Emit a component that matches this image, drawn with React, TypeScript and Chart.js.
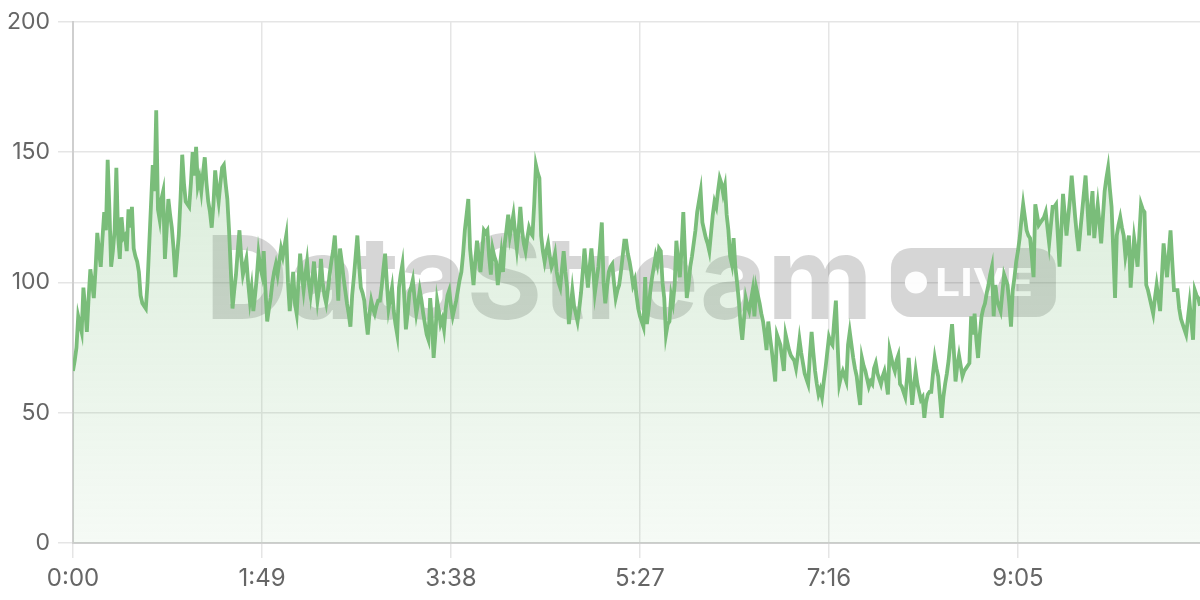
import React, { useEffect, useRef } from 'react';
import { Chart, registerables } from 'chart.js';

Chart.register(...registerables);

// one sample per second, 0:00 .. 10:50
const VALUES: number[] = [
  66, 70, 75, 87, 84, 81, 98, 90, 81, 94,
  105, 100, 94, 105, 119, 112, 106, 117, 127, 120,
  147, 128, 106, 112, 120, 144, 118, 109, 125, 117,
  118, 112, 128, 121, 129, 113, 110, 108, 104, 95,
  92, 91, 90, 100, 115, 130, 145, 135, 166, 128,
  124, 132, 135, 109, 120, 132, 126, 121, 113, 102,
  110, 118, 132, 149, 138, 131, 130, 129, 138, 150,
  141, 152, 137, 140, 135, 142, 148, 138, 131, 127,
  121, 130, 143, 136, 131, 138, 144, 145, 138, 132,
  120, 105, 90, 97, 103, 112, 120, 110, 103, 106,
  109, 100, 93, 98, 89, 95, 102, 111, 106, 103,
  112, 97, 85, 90, 94, 100, 104, 107, 103, 108,
  113, 110, 114, 118, 100, 89, 97, 104, 92, 88,
  100, 111, 103, 97, 103, 108, 100, 95, 101, 108,
  100, 93, 98, 109, 100, 95, 92, 97, 103, 108,
  112, 118, 106, 93, 113, 108, 102, 97, 92, 88,
  83, 95, 102, 110, 118, 107, 98, 96, 93, 86,
  80, 88, 93, 90, 88, 91, 93, 93, 98, 105,
  111, 100, 90, 94, 98, 89, 84, 80, 98, 103,
  107, 95, 82, 88, 96, 98, 101, 94, 88, 92,
  97, 93, 88, 84, 80, 78, 94, 85, 71, 80,
  93, 89, 84, 86, 82, 90, 95, 97, 91, 87,
  90, 93, 97, 101, 104, 111, 120, 126, 132, 113,
  106, 99, 108, 116, 110, 104, 112, 120, 119, 120,
  110, 103, 113, 110, 108, 99, 105, 111, 104, 115,
  120, 126, 118, 122, 126, 119, 113, 120, 129, 120,
  115, 112, 117, 121, 119, 118, 130, 145, 142, 140,
  118, 112, 108, 112, 115, 110, 106, 108, 111, 104,
  100, 98, 105, 112, 104, 98, 84, 90, 97, 91,
  88, 85, 90, 96, 104, 113, 105, 98, 106, 113,
  105, 96, 101, 106, 114, 123, 100, 92, 98, 104,
  106, 107, 100, 94, 97, 99, 104, 110, 116, 116,
  111, 108, 104, 99, 101, 95, 90, 87, 85, 83,
  102, 84, 90, 97, 102, 106, 110, 107, 113, 112,
  100, 94, 80, 84, 85, 95, 92, 99, 116, 108,
  102, 113, 127, 110, 94, 99, 106, 110, 115, 120,
  127, 131, 135, 123, 120, 117, 115, 112, 119, 126,
  131, 129, 135, 140, 138, 134, 137, 126, 120, 110,
  107, 117, 106, 100, 93, 84, 78, 86, 94, 91,
  89, 93, 97, 87, 98, 95, 92, 88, 85, 80,
  74, 85, 79, 74, 68, 62, 80, 78, 76, 71,
  66, 80, 77, 74, 72, 71, 70, 67, 72, 78,
  73, 69, 65, 63, 61, 72, 81, 73, 66, 61,
  57, 59, 56, 62, 67, 73, 79, 77, 76, 85,
  93, 76, 61, 64, 66, 64, 62, 76, 81, 76,
  71, 67, 64, 58, 53, 71, 68, 66, 63, 60,
  62, 61, 67, 69, 65, 63, 61, 64, 66, 62,
  57, 74, 71, 68, 66, 70, 72, 61, 60, 58,
  56, 63, 71, 62, 53, 60, 66, 61, 58, 55,
  56, 48, 54, 57, 58, 58, 65, 71, 67, 64,
  56, 48, 56, 61, 65, 70, 77, 84, 74, 62,
  68, 72, 68, 64, 66, 67, 68, 69, 87, 80,
  88, 78, 71, 80, 87, 90, 92, 96, 99, 103,
  106, 87, 99, 93, 91, 89, 96, 103, 101, 99,
  92, 83, 97, 102, 108, 112, 117, 124, 130, 125,
  120, 118, 117, 110, 102, 130, 126, 122, 123, 124,
  125, 127, 121, 115, 122, 129, 129, 130, 118, 106,
  120, 134, 126, 118, 125, 132, 141, 133, 125, 118,
  112, 120, 127, 134, 141, 130, 118, 128, 135, 117,
  124, 130, 123, 115, 125, 135, 140, 144, 136, 129,
  112, 94, 118, 122, 125, 121, 118, 110, 114, 118,
  98, 108, 117, 112, 106, 118, 130, 128, 127, 99,
  97, 94, 91, 88, 94, 99, 94, 89, 102, 115,
  108, 102, 111, 120, 108, 97, 97, 97, 90, 86,
  84, 82, 80, 86, 92, 85, 78, 97, 95, 94,
  91,
];

const X_TICK_STEP = 109;
const X_TICK_LABELS = ['0:00', '1:49', '3:38', '5:27', '7:16', '9:05'];
const Y_TICKS = [0, 50, 100, 150, 200];
const WATERMARK_TEXT = 'DataStream';
const BADGE_TEXT = 'LIVE';

const FONT = 'Inter, "Liberation Sans", Arial, sans-serif';
const LINE_COLOR = 'rgb(122,189,122)';

const watermarkPlugin = {
  id: 'watermark',
  beforeDatasetsDraw(chart: any) {
    const { ctx, chartArea } = chart;
    ctx.save();
    const targetW = 668;
    ctx.font = `bold 120px ${FONT}`;
    const w120 = ctx.measureText(WATERMARK_TEXT).width;
    const size = (120 * targetW) / w120;
    ctx.font = `bold ${size}px ${FONT}`;
    const tw = ctx.measureText(WATERMARK_TEXT).width;
    const badgeW = 165;
    const badgeH = 69;
    const gap = 18;
    const total = tw + gap + badgeW;
    const cx = (chartArea.left + chartArea.right) / 2 - 6;
    const cy = (chartArea.top + chartArea.bottom) / 2;
    const x0 = cx - total / 2;
    ctx.fillStyle = 'rgba(0,0,0,0.16)';
    ctx.textAlign = 'left';
    ctx.textBaseline = 'alphabetic';
    ctx.fillText(WATERMARK_TEXT, x0, cy + 37);
    const bx = x0 + tw + gap;
    const by = cy - badgeH / 2;
    const r = 20;
    ctx.beginPath();
    ctx.moveTo(bx + r, by);
    ctx.lineTo(bx + badgeW - r, by);
    ctx.arcTo(bx + badgeW, by, bx + badgeW, by + r, r);
    ctx.lineTo(bx + badgeW, by + badgeH - r);
    ctx.arcTo(bx + badgeW, by + badgeH, bx + badgeW - r, by + badgeH, r);
    ctx.lineTo(bx + r, by + badgeH);
    ctx.arcTo(bx, by + badgeH, bx, by + badgeH - r, r);
    ctx.lineTo(bx, by + r);
    ctx.arcTo(bx, by, bx + r, by, r);
    ctx.closePath();
    ctx.fill();
    ctx.fillStyle = 'rgba(255,255,255,0.95)';
    ctx.beginPath();
    ctx.arc(bx + 25, cy, 11, 0, Math.PI * 2);
    ctx.fill();
    ctx.font = `bold 38px ${FONT}`;
    ctx.textBaseline = 'middle';
    const lw = ctx.measureText(BADGE_TEXT).width;
    ctx.save();
    ctx.translate(bx + 44, cy + 2);
    ctx.scale(98 / lw, 1);
    ctx.fillText(BADGE_TEXT, 0, 0);
    ctx.restore();
    ctx.restore();
  },
};

export default function App() {
  const canvasRef = useRef<HTMLCanvasElement | null>(null);

  useEffect(() => {
    const canvas = canvasRef.current;
    if (!canvas) return;
    const data = VALUES.map((v, i) => ({ x: i, y: v }));
    const chart = new Chart(canvas, {
      type: 'line',
      data: {
        datasets: [
          {
            data,
            borderColor: LINE_COLOR,
            borderWidth: 3.8,
            pointRadius: 0,
            tension: 0,
            fill: 'origin',
            backgroundColor: (context: any) => {
              const { chart: c } = context;
              const area = c.chartArea;
              if (!area) return 'rgba(122,189,122,0.2)';
              const g = c.ctx.createLinearGradient(0, area.top, 0, area.bottom);
              g.addColorStop(0, 'rgba(122,189,122,0.34)');
              g.addColorStop(1, 'rgba(122,189,122,0.07)');
              return g;
            },
          },
        ],
      },
      options: {
        animation: false,
        responsive: true,
        maintainAspectRatio: false,
        layout: { padding: { top: 20, right: 0, left: 0, bottom: 0 } },
        plugins: {
          legend: { display: false },
          tooltip: { enabled: false },
        },
        scales: {
          x: {
            type: 'linear',
            min: 0,
            max: VALUES.length - 1,
            afterBuildTicks: (s: any) => {
              s.ticks = X_TICK_LABELS.map((_, i) => ({ value: i * X_TICK_STEP }));
            },
            afterFit: (s: any) => {
              s.height = 57;
            },
            ticks: {
              autoSkip: false,
              maxRotation: 0,
              minRotation: 0,
              padding: 6,
              color: '#666666',
              font: { family: FONT, size: 24 },
              callback: (v: any) => X_TICK_LABELS[Math.round(Number(v) / X_TICK_STEP)] ?? '',
            },
            grid: { color: '#e5e5e5', lineWidth: 1.5, tickLength: 15 },
            border: { color: '#cfcfcf', width: 2 },
          },
          y: {
            min: 0,
            max: 200,
            afterBuildTicks: (s: any) => {
              s.ticks = Y_TICKS.map((v) => ({ value: v }));
            },
            afterFit: (s: any) => {
              s.width = 73;
            },
            ticks: {
              padding: 8,
              color: '#666666',
              font: { family: FONT, size: 23 },
            },
            grid: { color: '#e5e5e5', lineWidth: 1.5, tickLength: 15 },
            border: { color: '#cfcfcf', width: 2 },
          },
        },
      },
      plugins: [watermarkPlugin],
    });
    return () => chart.destroy();
  }, []);

  return (
    <div style={{ position: 'fixed', left: 0, top: 0, width: 1200, height: 600, background: '#ffffff' }}>
      <canvas ref={canvasRef} />
    </div>
  );
}
